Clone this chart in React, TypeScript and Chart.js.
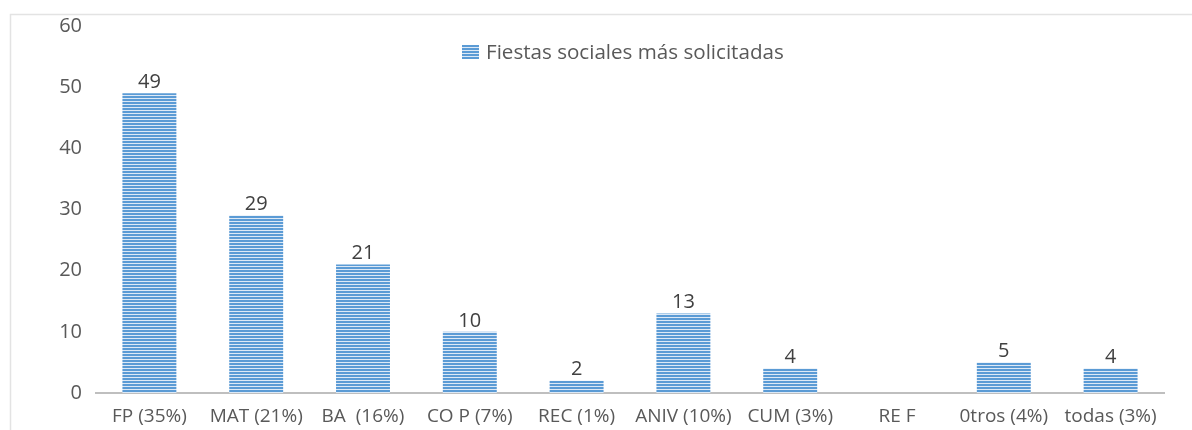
import React, { useEffect, useRef } from "react";
import { Chart, registerables } from "chart.js";

Chart.register(...registerables);

const categories = [
  "FP (35%)",
  "MAT (21%)",
  "BA  (16%)",
  "CO P (7%)",
  "REC (1%)",
  "ANIV (10%)",
  "CUM (3%)",
  "RE F",
  "0tros (4%)",
  "todas (3%)",
];
const values: (number | null)[] = [49, 29, 21, 10, 2, 13, 4, null, 5, 4];
const seriesLabel = "Fiestas sociales más solicitadas";
const yMin = 0;
const yMax = 60;
const yStep = 10;

const FONT = "'Open Sans', 'DejaVu Sans', sans-serif";

function makePattern(ctx: CanvasRenderingContext2D): CanvasPattern | string {
  const c = document.createElement("canvas");
  c.width = 4;
  c.height = 3;
  const p = c.getContext("2d");
  if (!p) return "#5B9BD5";
  p.fillStyle = "#DDE9F6";
  p.fillRect(0, 0, 4, 3);
  p.fillStyle = "#5B9BD5";
  p.fillRect(0, 0, 4, 2);
  return ctx.createPattern(c, "repeat") || "#5B9BD5";
}

export default function App() {
  const ref = useRef<HTMLCanvasElement | null>(null);

  useEffect(() => {
    const canvas = ref.current;
    if (!canvas) return;
    const ctx = canvas.getContext("2d");
    if (!ctx) return;
    const pattern = makePattern(ctx);

    const framePlugin = {
      id: "frame",
      beforeDraw(chart: any) {
        const c = chart.ctx;
        c.save();
        c.strokeStyle = "#E3E3E3";
        c.lineWidth = 1.5;
        c.beginPath();
        c.moveTo(10.5, 430);
        c.lineTo(10.5, 14.5);
        c.lineTo(1192, 14.5);
        c.stroke();
        c.restore();
      },
    };

    const legendPlugin = {
      id: "customLegend",
      afterDraw(chart: any) {
        const c = chart.ctx;
        c.save();
        c.fillStyle = pattern as any;
        c.fillRect(462, 45, 17, 14);
        c.fillStyle = "#595959";
        c.font = `20.6px ${FONT}`;
        c.textBaseline = "middle";
        c.textAlign = "left";
        c.fillText(chart.data.datasets[0].label, 486, 53);
        c.restore();
      },
    };

    const labelPlugin = {
      id: "valueLabels",
      afterDatasetsDraw(chart: any) {
        const c = chart.ctx;
        const meta = chart.getDatasetMeta(0);
        const data = chart.data.datasets[0].data;
        c.save();
        c.fillStyle = "#404040";
        c.font = `20px ${FONT}`;
        c.textAlign = "center";
        c.textBaseline = "middle";
        meta.data.forEach((el: any, i: number) => {
          const v = data[i];
          if (v === null || v === undefined) return;
          c.fillText(String(v), el.x, el.y - 11);
        });
        c.restore();
      },
    };

    const chart = new Chart(ctx, {
      type: "bar",
      data: {
        labels: categories,
        datasets: [
          {
            label: seriesLabel,
            data: values,
            backgroundColor: pattern as any,
            borderWidth: 0,
            barPercentage: 0.505,
            categoryPercentage: 1,
          },
        ],
      },
      options: {
        responsive: false,
        animation: false,
        devicePixelRatio: 1,
        layout: { padding: { left: 0, right: 28, top: 25, bottom: 0 } },
        plugins: {
          legend: { display: false },
          tooltip: { enabled: false },
        },
        scales: {
          x: {
            grid: { display: false, drawTicks: false },
            border: { display: true, color: "#BFBFBF", width: 2 },
            ticks: {
              color: "#595959",
              font: { family: FONT, size: 19 },
              padding: 12,
              maxRotation: 0,
              autoSkip: false,
            },
            afterFit(axis: any) {
              axis.height = 37;
            },
          },
          y: {
            min: yMin,
            max: yMax,
            grid: { display: false, drawTicks: false },
            border: { display: false },
            ticks: {
              stepSize: yStep,
              color: "#595959",
              font: { family: FONT, size: 20 },
              padding: 14,
            },
            afterFit(axis: any) {
              axis.width = 96;
            },
          },
        },
      },
      plugins: [framePlugin, legendPlugin, labelPlugin],
    });

    return () => chart.destroy();
  }, []);

  return (
    <div style={{ position: "fixed", left: 0, top: 0, width: 1192, height: 430, background: "#fff" }}>
      <canvas ref={ref} width={1192} height={430} style={{ display: "block" }} />
    </div>
  );
}
